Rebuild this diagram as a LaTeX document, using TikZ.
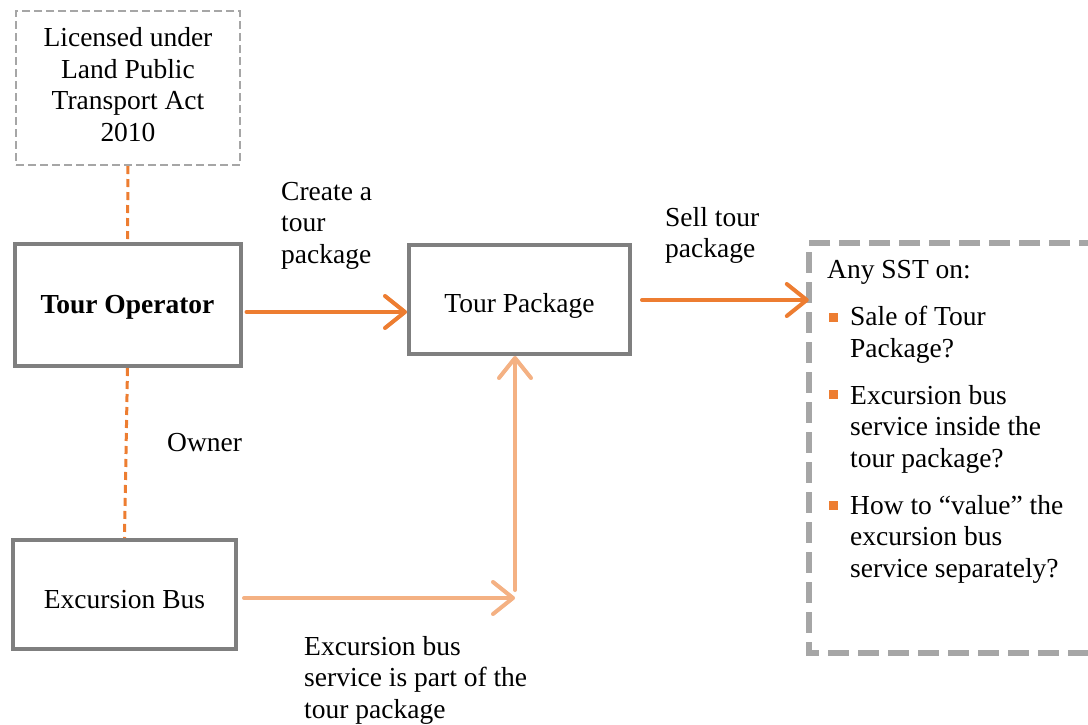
\documentclass[tikz,border=0pt]{standalone}
\usepackage{fontspec}
\setmainfont{Liberation Serif}
\usetikzlibrary{arrows.meta}
\definecolor{orng}{HTML}{ED7D31}
\definecolor{lorng}{HTML}{F4B183}
\definecolor{boxgray}{HTML}{7F7F7F}
\definecolor{dgray}{HTML}{A6A6A6}
\tikzset{
  txt/.style={font=\fontsize{27.5}{31.5}\selectfont, inner sep=0pt},
  solidbox/.style={draw=boxgray, line width=4, rectangle, txt},
  thinbox/.style={draw=dgray, line width=2, dash pattern=on 8 off 4, rectangle, txt},
  orngdash/.style={draw=orng, line width=3, dash pattern=on 8 off 5},
  bigarrow/.style={draw=orng, line width=4, line cap=round, -{Straight Barb[length=20,width=32,round]}},
  lightarrow/.style={draw=lorng, line width=4, line cap=round, -{Straight Barb[length=20,width=32,round]}},
  lbl/.style={txt, align=left, anchor=north west},
  bul/.style={fill=orng, minimum size=9, inner sep=0pt, rectangle}
}
\begin{document}
\begin{tikzpicture}[x=1pt,y=-1pt]
\useasboundingbox (0,0) rectangle (1088,724);
\fill[white] (0,0) rectangle (1088,724);
% boxes
\node[thinbox, minimum width=224, minimum height=154] (lic) at (128,88) {};
\node[txt, align=center] (lict) at (128,84.5) {Licensed under\\Land Public\\Transport Act\\2010};
\node[solidbox, minimum width=226, minimum height=122] (op) at (127.5,305) {};
\node[txt, font=\fontsize{27.5}{31.5}\selectfont\bfseries] (opt) at (127.5,307) {Tour Operator};
\node[solidbox, minimum width=221, minimum height=109] (pkg) at (519.5,299.5) {};
\node[txt] (pkgt) at (519.5,306) {Tour Package};
\node[solidbox, minimum width=223, minimum height=109] (bus) at (124.5,594.5) {};
\node[txt] (bust) at (124.5,600) {Excursion Bus};
\draw[draw=dgray, line width=6, dash pattern=on 21 off 9] (1100,243) -- (809,243) -- (809,653) -- (1100,653);
\node[inner sep=0, minimum width=291, minimum height=410] (sst) at (954.5,448) {};
% connectors
\draw[orngdash] (lic.south) -- (op.north);
\draw[orngdash] (op.south) -- (bus.north);
\draw[bigarrow, shorten <=4] (op.east |- 0,312) -- (pkg.west |- 0,312);
\draw[bigarrow] (642,300) coordinate (s1) -- (sst.west |- s1);
\coordinate (bend) at (515,598);
\coordinate (upstart) at (515,590);
\draw[lightarrow, shorten <=6] (bus.east |- bend) -- (bend);
\draw[lightarrow] (upstart) -- (upstart |- pkg.south);
% labels
\node[lbl] (l1) at (281,182) {Create a\\tour\\package};
\node[lbl] (l2) at (665,207) {Sell tour\\package};
\node[lbl] (l3) at (167,433) {Owner};
\node[lbl] (l4) at (304,636) {Excursion bus\\service is part of the\\tour package};
% right box text
\node[lbl] (t0) at (827,260) {Any SST on:};
\node[bul] (b1) at (833,317) {};
\node[lbl] (t1) at (850,306) {Sale of Tour\\Package?};
\node[bul] (b2) at (833,394) {};
\node[lbl] (t2) at (850,385) {Excursion bus\\service inside the\\tour package?};
\node[bul] (b3) at (833,505) {};
\node[lbl] (t3) at (850,495) {How to “value” the\\excursion bus\\service separately?};
\end{tikzpicture}
\end{document}
